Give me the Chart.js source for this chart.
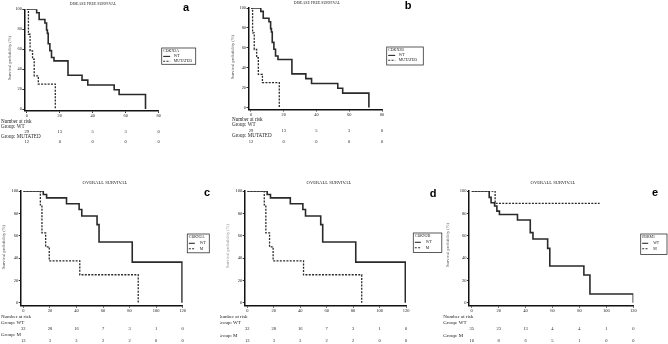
<!DOCTYPE html>
<html><head><meta charset="utf-8">
<script src="https://cdn.jsdelivr.net/npm/chart.js@4.4.1/dist/chart.umd.min.js"></script>
<style>
html,body{margin:0;padding:0;background:#fff;width:668px;height:344px;overflow:hidden}
canvas{position:absolute;left:0;top:0}
</style></head><body>
<canvas id="pa" width="668" height="344"></canvas>
<canvas id="pb" width="668" height="344"></canvas>
<canvas id="pc" width="668" height="344"></canvas>
<canvas id="pd" width="668" height="344"></canvas>
<canvas id="pe" width="668" height="344"></canvas>
<script>
// ---------- DATA ----------
// Disease free survival (panels a, b) - time in months, survival in %
const dfsTimeWT  = [0, 6, 7.5, 11, 12, 12.5, 13, 14, 15, 16.5, 25, 33.5, 37, 53, 56, 72];
const dfsSurvWT  = [100, 96.6, 89.7, 86.2, 79.3, 75.9, 65.5, 58.6, 51.7, 48.3, 33.8, 29.0, 24.1, 19.3, 14.5, 0];
const dfsTimeMut = [0, 1, 2, 3.5, 4.5, 7, 17.3];
const dfsSurvMut = [100, 75, 58.3, 50, 33.3, 25, 0];
// Overall survival CDKN2A / CDKN2B (panels c, d)
const osTimeWT = [0, 15, 17.5, 32.5, 42, 44, 55.5, 57, 82, 119.5];
const osSurvWT = [100, 96.9, 93.8, 88.6, 83.5, 77.6, 69.9, 54.4, 36.3, 0];
const osTimeM  = [0, 12.8, 14, 16.8, 19.5, 42.5, 86.5];
const osSurvM  = [100, 87.5, 62.5, 50, 37.5, 25, 0];
// Overall survival PBRM1 (panel e)
const pbTimeWT = [0, 13, 14.4, 17, 18.7, 20.6, 34, 43.5, 45.5, 56.4, 58, 83.3, 87.8, 120];
const pbSurvWT = [100, 94.3, 89.5, 86.6, 82, 79, 74, 62.7, 57, 48.6, 32.8, 24.8, 7.8, 0];
const pbTimeM  = [0, 17.4, 95];
const pbSurvM  = [100, 88.9, 88.9];
// Tick labels
const dfsXTicks = [0, 20, 40, 60, 80];
const osXTicks  = [0, 20, 40, 60, 80, 100, 120];
const yTicks    = [0, 20, 40, 60, 80, 100];
// Number at risk
const riskDfsWT  = [29, 13, 5, 3, 0];
const riskDfsMut = [12, 0, 0, 0, 0];
const riskCdkWT  = [32, 28, 16, 7, 3, 1, 0];
const riskCdkM   = [13, 3, 3, 2, 2, 0, 0];
const riskPbWT   = [35, 23, 13, 4, 4, 1, 0];
const riskPbM    = [10, 8, 6, 5, 1, 0, 0];
// Texts
const titleDFS = 'DISEASE FREE SURVIVAL';
const titleOS  = 'OVERALL SURVIVAL';
const yTitle   = 'Survival probability (%)';

// ---------- DRAWING ----------
const W = 668, H = 344;
const SERIF = "'Liberation Serif','Times New Roman',serif";
const SANS = "'Liberation Sans',Arial,sans-serif";
const LINE = '#2a2a2a';

function makeDecor(p) {
  return {
    id: 'decor_' + p.id,
    afterDraw(chart) {
      const c = chart.ctx, xs = chart.scales.x;
      c.save();
      c.textAlign = 'center'; c.textBaseline = 'middle'; c.fillStyle = '#222';
      c.font = p.titleSize + 'px ' + SERIF;
      c.fillText(p.title, p.titlePos[0], p.titlePos[1]);
      c.font = 'bold 11px ' + SANS; c.fillStyle = '#000';
      c.fillText(p.letter, p.letterPos[0], p.letterPos[1]);
      // y title
      c.save();
      c.translate(p.yTitlePos[0], p.yTitlePos[1]); c.rotate(-Math.PI / 2);
      c.font = '4.5px ' + SERIF; c.fillStyle = p.yTitleColor;
      c.fillText(yTitle, 0, 0);
      c.restore();
      // legend
      const L = p.legend;
      c.strokeStyle = '#333'; c.lineWidth = 0.8;
      c.strokeRect(L.x, L.y, L.w, L.h);
      c.font = L.size + 'px ' + SERIF; c.textAlign = 'left'; c.fillStyle = '#222';
      c.fillText(p.gene, L.x + 1.5, L.y + L.rows[0]);
      chart.data.datasets.forEach((ds, i) => {
        const yy = L.y + L.rows[i + 1];
        c.beginPath(); c.setLineDash(ds.borderDash || []);
        c.lineWidth = 1.1; c.strokeStyle = ds.borderColor;
        c.moveTo(L.x + 1.5, yy); c.lineTo(L.x + 1.5 + L.sample, yy); c.stroke();
        c.setLineDash([]);
        c.fillText(ds.label, L.x + 1.5 + L.sample + L.gap, yy);
      });
      // number at risk
      const R = p.risk;
      c.save();
      if (R.clip != null) { c.beginPath(); c.rect(R.clip, 0, W, H); c.clip(); }
      c.fillStyle = '#222'; c.textAlign = 'left';
      c.font = R.size + 'px ' + SERIF;
      c.fillText('Number at risk', R.x, R.rows[0]);
      c.fillText('Group: ' + chart.data.datasets[0].label, R.x, R.rows[1]);
      c.fillText('Group: ' + chart.data.datasets[1].label, R.x, R.rows[3]);
      c.textAlign = 'center'; c.font = R.numSize + 'px ' + SERIF;
      p.xTicks.forEach((t, k) => {
        const px = xs.getPixelForValue(t);
        c.fillText(String(p.riskWT[k]), px, R.rows[2]);
        c.fillText(String(p.riskM[k]), px, R.rows[4]);
      });
      c.restore();
      c.restore();
    }
  };
}

function pts(t, s) { return t.map((v, i) => ({ x: v, y: s[i] })); }

function makePanel(p) {
  const yW = 14, xH = 8;
  const axisCommon = {
    grid: { drawOnChartArea: false, drawTicks: true, tickLength: 2, color: '#000', lineWidth: 0.8 },
    border: { display: true, color: '#111', width: 1.5 },
  };
  new Chart(document.getElementById(p.id), {
    type: 'line',
    data: { datasets: [
      { label: p.labels[0], data: pts(p.wt[0], p.wt[1]), stepped: true, borderColor: LINE, borderWidth: 1.6, pointRadius: 0, fill: false },
      { label: p.labels[1], data: pts(p.m[0], p.m[1]), stepped: true, borderColor: LINE, borderWidth: 1.3, borderDash: [2, 1.3], pointRadius: 0, fill: false }
    ]},
    options: {
      responsive: false, animation: false, events: [],
      layout: { padding: { left: p.area.l - yW, right: W - p.area.r, top: p.area.t, bottom: H - p.area.b - xH } },
      plugins: { legend: { display: false }, tooltip: { enabled: false }, title: { display: false } },
      scales: {
        x: Object.assign({}, axisCommon, {
          type: 'linear', min: p.xMin, max: p.xMax,
          afterBuildTicks: s => { s.ticks = p.xTicks.map(v => ({ value: v })); },
          afterFit: s => { s.height = xH; },
          ticks: { font: { family: SERIF, size: p.tickSize }, color: '#222', padding: 0.3, maxRotation: 0, autoSkip: false }
        }),
        y: Object.assign({}, axisCommon, {
          type: 'linear', min: p.yMin, max: 100,
          afterBuildTicks: s => { s.ticks = yTicks.map(v => ({ value: v })); },
          afterFit: s => { s.width = yW; },
          ticks: { font: { family: SERIF, size: p.tickSize }, color: '#222', padding: 0.5, autoSkip: false }
        })
      }
    },
    plugins: [makeDecor(p)]
  });
}

const legAB = { size: 3.9, rows: [3.2, 8.4, 13.2], sample: 7, gap: 3.5 };
const legCDE = { size: 3.9, rows: [3.3, 9.3, 14.8], sample: 6, gap: 5 };

makePanel({ id: 'pa', gene: 'CDKN2A', labels: ['WT', 'MUTATED'], wt: [dfsTimeWT, dfsSurvWT], m: [dfsTimeMut, dfsSurvMut],
  area: { l: 24.3, r: 158.7, t: 9.3, b: 111 }, xMin: -1.5, xMax: 80, yMin: -2, xTicks: dfsXTicks, tickSize: 4.3,
  title: titleDFS, titleSize: 3.9, titlePos: [93, 4], letter: 'a', letterPos: [186, 8],
  yTitlePos: [9.5, 58], yTitleColor: '#555',
  legend: Object.assign({ x: 161.7, y: 48, w: 34, h: 16.3 }, legAB),
  risk: { x: 1, rows: [122, 127, 132, 137, 142.3], size: 5.1, numSize: 4.5 },
  riskWT: riskDfsWT, riskM: riskDfsMut });

makePanel({ id: 'pb', gene: 'CDKN2B', labels: ['WT', 'MUTATED'], wt: [dfsTimeWT, dfsSurvWT], m: [dfsTimeMut, dfsSurvMut],
  area: { l: 248.5, r: 382, t: 8, b: 109.5 }, xMin: -1.5, xMax: 80, yMin: -2, xTicks: dfsXTicks, tickSize: 4.3,
  title: titleDFS, titleSize: 3.9, titlePos: [317, 3], letter: 'b', letterPos: [408, 6],
  yTitlePos: [233, 57], yTitleColor: '#555',
  legend: Object.assign({ x: 386.7, y: 47, w: 36.6, h: 18 }, legAB),
  risk: { x: 232, rows: [120, 124.8, 130.7, 136, 141.7], size: 5.1, numSize: 4.5 },
  riskWT: riskDfsWT, riskM: riskDfsMut });

makePanel({ id: 'pc', gene: 'CDKN2A', labels: ['WT', 'M'], wt: [osTimeWT, osSurvWT], m: [osTimeM, osSurvM],
  area: { l: 20.7, r: 182.7, t: 191, b: 305.7 }, xMin: -2, xMax: 120, yMin: -2.7, xTicks: osXTicks, tickSize: 4.5,
  title: titleOS, titleSize: 4.6, titlePos: [105, 183], letter: 'c', letterPos: [207, 193],
  yTitlePos: [3.5, 247], yTitleColor: '#555',
  legend: Object.assign({ x: 187.3, y: 234, w: 22, h: 18.8 }, legCDE),
  risk: { x: 1, rows: [317, 322.5, 328.7, 335, 341], size: 5, numSize: 4.5 },
  riskWT: riskCdkWT, riskM: riskCdkM });

makePanel({ id: 'pd', gene: 'CDKN2B', labels: ['WT', 'M'], wt: [osTimeWT, osSurvWT], m: [osTimeM, osSurvM],
  area: { l: 244.7, r: 406, t: 191, b: 305.7 }, xMin: -2, xMax: 120, yMin: -2.7, xTicks: osXTicks, tickSize: 4.5,
  title: titleOS, titleSize: 4.6, titlePos: [329, 183], letter: 'd', letterPos: [433, 194],
  yTitlePos: [228, 246], yTitleColor: '#999',
  legend: Object.assign({ x: 413.3, y: 233, w: 28.5, h: 19.5 }, legCDE),
  risk: { x: 217.6, clip: 220, rows: [317, 322.5, 329, 335.3, 341], size: 5, numSize: 4.5 },
  riskWT: riskCdkWT, riskM: riskCdkM });

makePanel({ id: 'pe', gene: 'PBRM1', labels: ['WT', 'M'], wt: [pbTimeWT, pbSurvWT], m: [pbTimeM, pbSurvM],
  area: { l: 469, r: 633.3, t: 191, b: 305.7 }, xMin: -2, xMax: 120, yMin: -2.7, xTicks: osXTicks, tickSize: 4.5,
  title: titleOS, titleSize: 4.6, titlePos: [553, 183], letter: 'e', letterPos: [655, 193],
  yTitlePos: [448, 245], yTitleColor: '#666',
  legend: Object.assign({ x: 640.7, y: 234, w: 26.3, h: 20.5 }, legCDE),
  risk: { x: 443.3, rows: [316.7, 322.3, 329.3, 335.3, 340.7], size: 5, numSize: 4.5 },
  riskWT: riskPbWT, riskM: riskPbM });
</script>
</body></html>
